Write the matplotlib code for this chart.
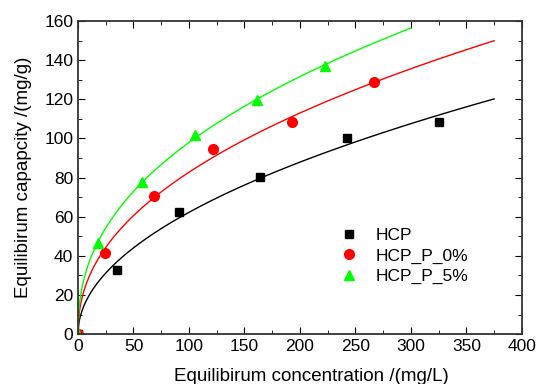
import numpy as np
import matplotlib
matplotlib.use('Agg')
import matplotlib.pyplot as plt
from matplotlib.ticker import MultipleLocator

plt.rcParams['font.family'] = ['Liberation Sans', 'DejaVu Sans']

series = ['HCP', 'HCP_P_0%', 'HCP_P_5%']
ce_hcp = [0, 35, 91, 164, 242, 325]
qe_hcp = [0, 32.6, 62.2, 80.3, 100.4, 108.2]
ce_p0 = [0, 24.6, 68.5, 122, 193, 266.5]
qe_p0 = [0, 41.6, 70.6, 94.4, 108.4, 128.7]
ce_p5 = [0, 18.3, 57.7, 105.7, 161, 222.2]
qe_p5 = [0, 46.4, 77.9, 101.7, 119.6, 137.2]
fit_end = [375, 375, 300]


def ajuste_freundlich(c, q):
    # minimos cuadrados q = K * c^b, busqueda en b con K cerrado
    c = np.asarray(c, float)
    q = np.asarray(q, float)
    mejor = None
    for b in np.linspace(0.1, 1.0, 901):
        cb = c ** b
        k = np.sum(q * cb) / np.sum(cb * cb)
        err = np.sum((q - k * cb) ** 2)
        if mejor is None or err < mejor[0]:
            mejor = (err, k, b)
    return mejor[1], mejor[2]


fig = plt.figure(figsize=(5.38, 3.84), dpi=100)
ax = fig.add_axes([0.145, 0.130, 0.825, 0.815])

datos = [(ce_hcp, qe_hcp, 'k', 's'), (ce_p0, qe_p0, '#ff0000', 'o'), (ce_p5, qe_p5, '#00ff00', '^')]
for (c, q, col, mk), nombre, fin in zip(datos, series, fit_end):
    k, b = ajuste_freundlich(c, q)
    xs = np.linspace(0, fin, 500)
    ax.plot(xs, k * xs ** b, color=col, linewidth=1)
    ax.plot(c, q, linestyle='none', marker=mk, color=col, markersize=7 if mk != 's' else 6, label=nombre)

ax.set_xlim(0, 400)
ax.set_ylim(0, 160)
ax.xaxis.set_major_locator(MultipleLocator(50))
ax.xaxis.set_minor_locator(MultipleLocator(25))
ax.yaxis.set_major_locator(MultipleLocator(20))
ax.yaxis.set_minor_locator(MultipleLocator(10))
ax.tick_params(which='both', direction='in', top=True, right=True, labelsize=12.5)
ax.tick_params(which='major', length=5)
ax.tick_params(which='minor', length=3)
for s in ax.spines.values():
    s.set_linewidth(1.3)
    s.set_color('#333333')

ax.set_xlabel('Equilibirum concentration /(mg/L)', fontsize=13.5, labelpad=10)
ax.xaxis.label.set_x(0.525)
ax.set_ylabel('Equilibirum capapcity /(mg/g)', fontsize=13.5, labelpad=9)
ax.legend(loc='lower right', bbox_to_anchor=(0.915, 0.11), frameon=False, fontsize=12.5,
          handletextpad=0.8, labelspacing=0.3, handlelength=1.5)

plt.savefig('out.png', dpi=100)
